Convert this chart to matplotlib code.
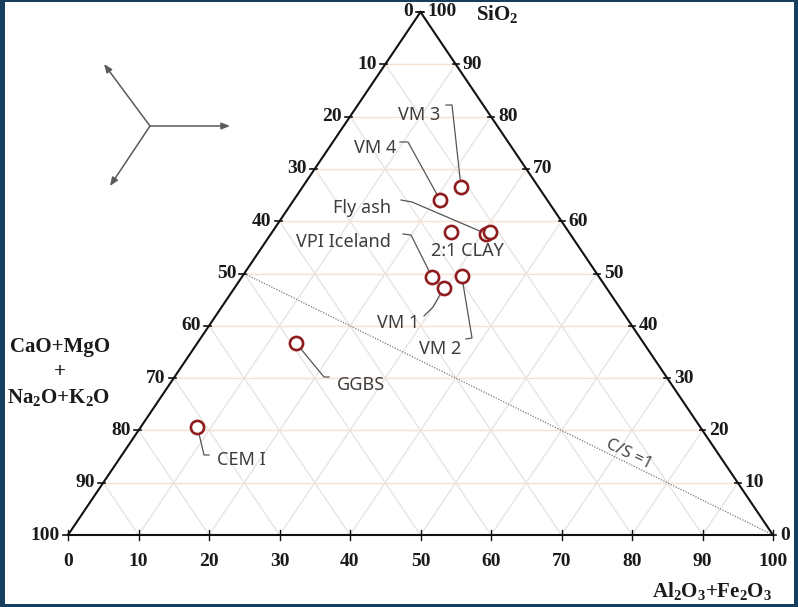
import matplotlib
matplotlib.use('Agg')
import matplotlib.pyplot as plt
from matplotlib.patches import Rectangle
import numpy as np

plt.rcParams['mathtext.fontset'] = 'custom'
plt.rcParams['mathtext.rm'] = 'Liberation Serif:bold'
plt.rcParams['mathtext.it'] = 'Liberation Serif:bold'
plt.rcParams['mathtext.bf'] = 'Liberation Serif:bold'

# ---------------- data (ternary compositions, %) ----------------
names = ['CEM I', 'GGBS', 'VM 3', 'VM 4', '', 'Fly ash', '2:1 CLAY',
         'VPI Iceland', 'VM 1', 'VM 2']
al_fe = [8.0, 14.0, 22.5, 20.7, 25.4, 30.5, 30.9, 27.0, 29.7, 31.1]   # Al2O3+Fe2O3
sio2 = [20.7, 36.7, 66.5, 64.1, 57.9, 57.6, 57.9, 49.3, 47.2, 49.5]    # SiO2
tick_values = [0, 10, 20, 30, 40, 50, 60, 70, 80, 90, 100]
cs_line_sio2 = [50, 0]
cs_line_alfe = [0, 100]

# ---------------- figure ----------------
W, H = 798, 607
fig = plt.figure(figsize=(W / 100, H / 100), dpi=100)
fig.patch.set_facecolor('#163f5f')
fig.add_artist(Rectangle((5 / W, 3 / H), (794 - 5) / W, (605 - 3) / H,
                         transform=fig.transFigure, facecolor='white',
                         edgecolor='none', zorder=-5))

# triangle: bottom-left (68,535) px, bottom-right (773,535), apex (420.5,12)
ax = fig.add_axes([68 / W, (H - 535) / H, 705 / W, 523 / H])
ax.set_xlim(0, 100)
ax.set_ylim(0, 100)
ax.axis('off')


def tern(a, s):
    a = np.asarray(a, float)
    s = np.asarray(s, float)
    return a + s / 2.0, s


def px2d(px, py):
    return (px - 68) / 7.05, (535 - py) / 5.23


PXX = 1 / 7.05   # data units per pixel, x
PXY = 1 / 5.23   # data units per pixel, y

# ---------------- grid ----------------
hcol = '#f6e0d0'
dcol = '#e9e4df'
for v in tick_values[1:-1]:
    x0, y0 = tern(0, v)
    x1, y1 = tern(100 - v, v)
    ax.plot([x0, x1], [y0, y1], color=hcol, lw=1.0, zorder=1)
    x0, y0 = tern(v, 0)
    x1, y1 = tern(v, 100 - v)
    ax.plot([x0, x1], [y0, y1], color=dcol, lw=1.0, zorder=1)
    x0, y0 = tern(100 - v, 0)
    x1, y1 = tern(0, 100 - v)
    ax.plot([x0, x1], [y0, y1], color=dcol, lw=1.0, zorder=1)

# ---------------- triangle edges ----------------
tx, ty = tern([0, 100, 0, 0], [0, 0, 100, 0])
ax.plot(tx, ty, color='#111111', lw=1.5, zorder=4, solid_joinstyle='miter',
        clip_on=False)

# ---------------- ticks and tick labels ----------------
tfont = dict(family='Liberation Serif', weight='bold', size=14, color='#1a1a1a')
ttl = dict(family='Liberation Serif', weight='bold', size=15, color='#1a1a1a')
for v in tick_values:
    bx, by = tern(v, 0)
    ax.plot([bx, bx], [by - 5 * PXY, by + 5 * PXY], color='#111', lw=1.0,
            clip_on=False, zorder=4)
    ax.text(bx, by - 27 * PXY, str(v), ha='center', va='center', **tfont)
    lx, ly = tern(0, 100 - v)
    ax.plot([lx - 5 * PXX, lx + 2 * PXX], [ly, ly], color='#111', lw=1.2,
            clip_on=False, zorder=4)
    ax.text(lx - 8 * PXX, ly, str(v), ha='right', va='center', **tfont)
    rx, ry = tern(100 - v, v)
    ax.plot([rx - 3 * PXX, rx + 3 * PXX], [ry, ry], color='#111', lw=1.2,
            clip_on=False, zorder=4)
    ax.text(rx + 7 * PXX, ry, str(v), ha='left', va='center', **tfont)

# axis titles
ax.text(*px2d(497, 14), r'SiO$_2$', ha='center', va='center', **ttl)
ax.text(*px2d(712, 591), r'Al$_2$O$_3$+Fe$_2$O$_3$', ha='center', va='center', **ttl)
ax.text(*px2d(60, 347), 'CaO+MgO', ha='center', va='center', **ttl)
ax.text(*px2d(60, 372), '+', ha='center', va='center', **ttl)
ax.text(*px2d(59, 397), r'Na$_2$O+K$_2$O', ha='center', va='center', **ttl)

# ---------------- C/S = 1 line ----------------
cx, cy = tern(cs_line_alfe, cs_line_sio2)
ax.plot(cx, cy, color='#7a7a7a', lw=0.9, ls=(0, (1, 1.2)), zorder=2)
p0 = ax.transData.transform((cx[0], cy[0]))
p1 = ax.transData.transform((cx[1], cy[1]))
ang = np.degrees(np.arctan2(p1[1] - p0[1], p1[0] - p0[0]))
ax.text(*px2d(629, 454), 'C/S =1', rotation=ang, rotation_mode='anchor',
        ha='center', va='center', family='Noto Sans', size=12, color='#444')

# ---------------- points ----------------
px_, py_ = tern(al_fe, sio2)
ax.plot(px_, py_, ls='none', marker='o', ms=9.5, mfc='white', mec='#8f1d1f',
        mew=1.9, zorder=6, clip_on=False)

# ---------------- labels with leader lines ----------------
label_layout = {
    'VM 3': ((419, 115), [(446, 105), (452, 105)]),
    'VM 4': ((375, 148), [(400, 142), (408, 142)]),
    'Fly ash': ((362, 208), [(401, 200), (412, 202)]),
    'VPI Iceland': ((343, 242), [(403, 234), (411, 235)]),
    '2:1 CLAY': ((467, 251), []),
    'VM 1': ((398, 323), [(424, 316), (433, 307)]),
    'VM 2': ((440, 349), [(466, 339), (472, 338)]),
    'GGBS': ((361, 385), [(329, 377), (324, 377)]),
    'CEM I': ((241, 460), [(209, 455), (204, 455)]),
}
lfont = dict(family='Noto Sans', size=13, color='#3d3d3d')
for i, n in enumerate(names):
    if n not in label_layout:
        continue
    (tx_, ty_), path = label_layout[n]
    ax.text(*px2d(tx_, ty_), n, ha='center', va='center', zorder=7, **lfont)
    if path:
        xs = [px2d(*p)[0] for p in path] + [px_[i]]
        ys = [px2d(*p)[1] for p in path] + [py_[i]]
        ax.plot(xs, ys, color='#555', lw=0.9, zorder=5)

# ---------------- compass arrows ----------------
center = px2d(150, 126)
for tip in [(230, 126), (104, 64), (110, 186)]:
    ax.annotate('', xy=px2d(*tip), xytext=center,
                arrowprops=dict(arrowstyle='-|>,head_length=0.5,head_width=0.2',
                                color='#5a5a5a', lw=1.1, shrinkA=0, shrinkB=0),
                annotation_clip=False)

fig.savefig('out.png', dpi=100, facecolor=fig.get_facecolor())
